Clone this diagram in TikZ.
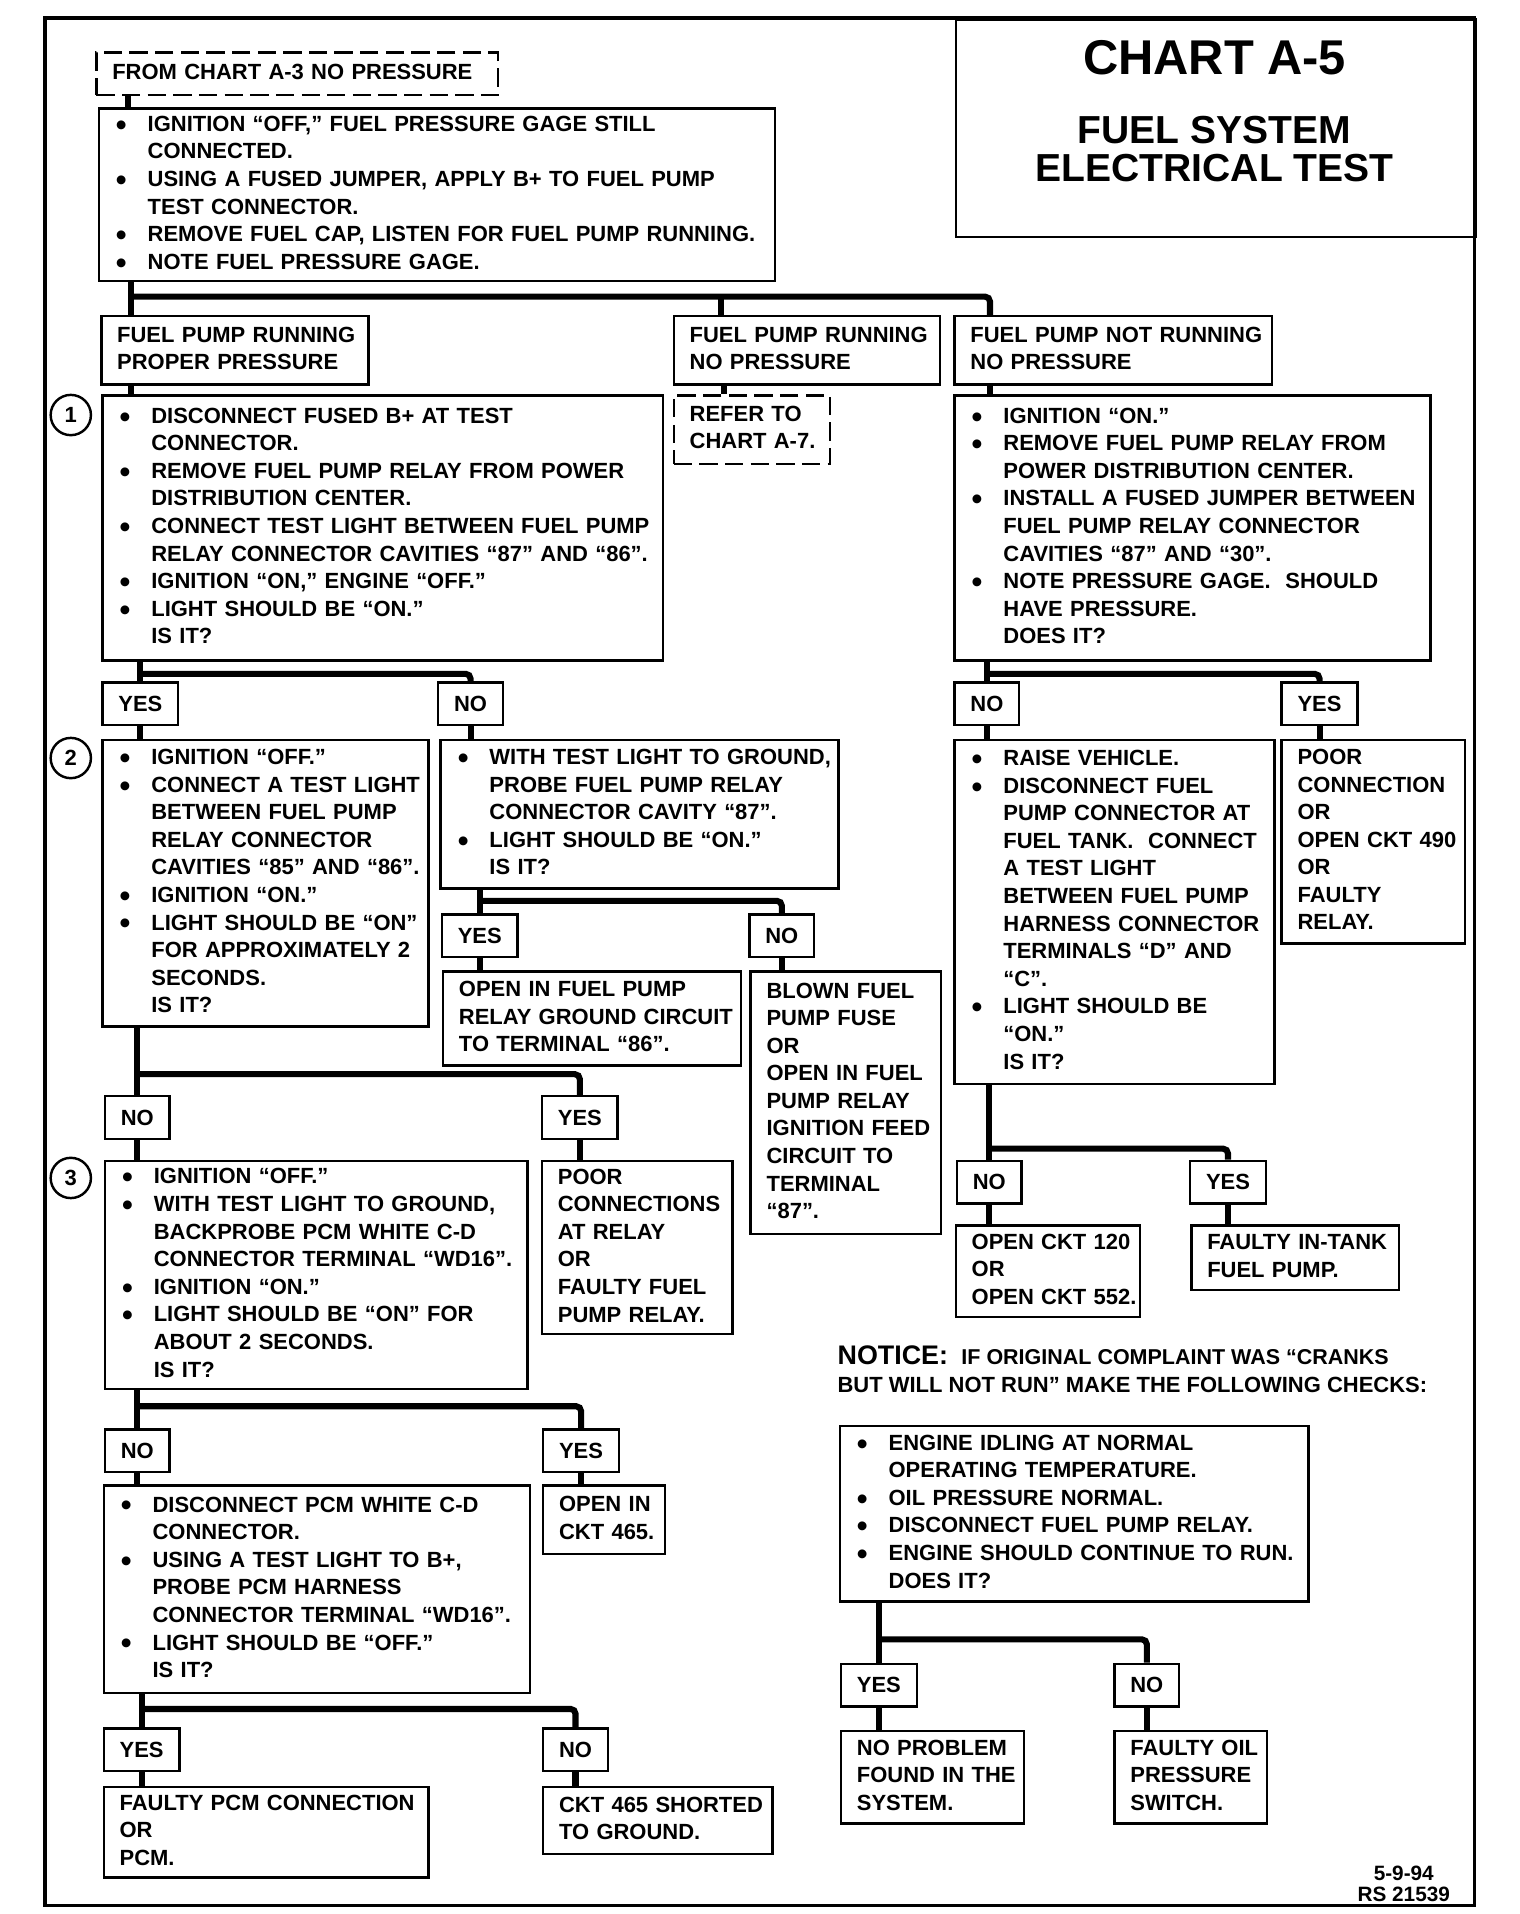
\documentclass[tikz,border=0pt]{standalone}
\usepackage{fontspec}
\usepackage{graphicx}
\setmainfont{Liberation Sans Bold}
\setlength{\parindent}{0pt}
\newcommand{\bul}{\makebox[27pt][l]{\hspace{1pt}\raisebox{-3.2pt}{\scalebox{1.4}{\textbullet}}}}
\newcommand{\ind}{\hspace{27pt}}
\newcommand{\lns}[1]{\begin{tabular}{@{}l@{}}#1\end{tabular}}

\begin{document}
\begin{tikzpicture}[x=1pt,y=-1pt]

\tikzset{
  box/.style={
    draw,
    line width=2pt,
    anchor=north west,
    align=left,
    inner xsep=13pt,
    inner ysep=0pt,
    font=\fontsize{18}{22.6}\selectfont
  },
  dbox/.style={
    box,
    dash pattern=on 15pt off 6pt
  },
  lbl/.style={
    draw,
    line width=2pt,
    anchor=north west,
    inner xsep=13pt,
    inner ysep=0pt,
    minimum height=35pt,
    font=\fontsize{18}{22.6}\selectfont
  },
  num/.style={
    draw,
    circle,
    line width=2pt,
    minimum size=33pt,
    inner sep=0pt,
    font=\fontsize{18}{20}\selectfont
  },
  conn/.style={
    line width=5pt,
    rounded corners=4pt
  }
}

\useasboundingbox (0,0) rectangle (1245,1568);

% FRAME
\draw[line width=3pt] (37,15) rectangle (1208,1561);

% TITLE
\node[draw, line width=2pt, anchor=north west, minimum width=426pt, minimum height=178pt] (tbox) at (782,15) {};
\node[font=\fontsize{40}{40}\selectfont] (tname) at (995,47) {CHART A-5};
\node[align=center, font=\fontsize{32}{31}\selectfont] (ttitle) at (995,122) {FUEL SYSTEM\\ELECTRICAL TEST};

% START
\node[dbox, text width=303pt, minimum height=35pt] (from) at (78,42) {\lns{FROM CHART A-3 NO PRESSURE}};

\node[box, text width=528pt, minimum height=141pt] (b0) at (80,88) {\lns{
\bul IGNITION “OFF,” FUEL PRESSURE GAGE STILL\\
\ind CONNECTED.\\
\bul USING A FUSED JUMPER, APPLY B+ TO FUEL PUMP\\
\ind TEST CONNECTOR.\\
\bul REMOVE FUEL CAP, LISTEN FOR FUEL PUMP RUNNING.\\
\bul NOTE FUEL PRESSURE GAGE.}};

% BRANCHES
\node[box, text width=193pt, minimum height=56pt] (br1) at (82,258) {\lns{FUEL PUMP RUNNING\\PROPER PRESSURE}};
\node[box, text width=192pt, minimum height=56pt] (br2) at (551,258) {\lns{FUEL PUMP RUNNING\\NO PRESSURE}};
\node[box, text width=234pt, minimum height=56pt] (br3) at (781,258) {\lns{FUEL PUMP NOT RUNNING\\NO PRESSURE}};

% STEP 1
\node[num] (c1) at (58,340) {1};
\node[box, text width=433pt, minimum height=217pt] (b1) at (83,323) {\lns{
\bul DISCONNECT FUSED B+ AT TEST\\
\ind CONNECTOR.\\
\bul REMOVE FUEL PUMP RELAY FROM POWER\\
\ind DISTRIBUTION CENTER.\\
\bul CONNECT TEST LIGHT BETWEEN FUEL PUMP\\
\ind RELAY CONNECTOR CAVITIES “87” AND “86”.\\
\bul IGNITION “ON,” ENGINE “OFF.”\\
\bul LIGHT SHOULD BE “ON.”\\
\ind IS IT?}};

\node[dbox, text width=102pt, minimum height=56pt] (refer) at (551,323) {\lns{REFER TO\\CHART A-7.}};

\node[box, text width=364pt, minimum height=217pt] (r1) at (781,323) {\lns{
\bul IGNITION “ON.”\\
\bul REMOVE FUEL PUMP RELAY FROM\\
\ind POWER DISTRIBUTION CENTER.\\
\bul INSTALL A FUSED JUMPER BETWEEN\\
\ind FUEL PUMP RELAY CONNECTOR\\
\ind CAVITIES “87” AND “30”.\\
\bul NOTE PRESSURE GAGE.\ \ SHOULD\\
\ind HAVE PRESSURE.\\
\ind DOES IT?}};

\node[lbl] (yes1) at (83,558) {YES};
\node[lbl] (no1) at (358,558) {NO};
\node[lbl] (nor1) at (781,558) {NO};
\node[lbl] (yesr1) at (1049,558) {YES};

% STEP 2
\node[num] (c2) at (58,621) {2};
\node[box, text width=241pt, minimum height=235pt] (b2) at (83,605) {\lns{
\bul IGNITION “OFF.”\\
\bul CONNECT A TEST LIGHT\\
\ind BETWEEN FUEL PUMP\\
\ind RELAY CONNECTOR\\
\ind CAVITIES “85” AND “86”.\\
\bul IGNITION “ON.”\\
\bul LIGHT SHOULD BE “ON”\\
\ind FOR APPROXIMATELY 2\\
\ind SECONDS.\\
\ind IS IT?}};

\node[box, text width=300pt, minimum height=122pt] (b2n) at (360,605) {\lns{
\bul WITH TEST LIGHT TO GROUND,\\
\ind PROBE FUEL PUMP RELAY\\
\ind CONNECTOR CAVITY “87”.\\
\bul LIGHT SHOULD BE “ON.”\\
\ind IS IT?}};

\node[lbl] (yesb2n) at (361,748) {YES};
\node[lbl] (nob2n) at (613,748) {NO};

\node[box, text width=218pt, minimum height=77pt] (opgnd) at (362,795) {\lns{OPEN IN FUEL PUMP\\RELAY GROUND CIRCUIT\\TO TERMINAL “86”.}};
\node[box, text width=130pt, minimum height=215pt] (blown) at (614,795) {\lns{BLOWN FUEL\\PUMP FUSE\\OR\\OPEN IN FUEL\\PUMP RELAY\\IGNITION FEED\\CIRCUIT TO\\TERMINAL\\“87”.}};

\node[box, text width=236pt, minimum height=282pt] (r2) at (781,605) {\lns{
\bul RAISE VEHICLE.\\
\bul DISCONNECT FUEL\\
\ind PUMP CONNECTOR AT\\
\ind FUEL TANK.\ \ CONNECT\\
\ind A TEST LIGHT\\
\ind BETWEEN FUEL PUMP\\
\ind HARNESS CONNECTOR\\
\ind TERMINALS “D” AND\\
\ind “C”.\\
\bul LIGHT SHOULD BE\\
\ind “ON.”\\
\ind IS IT?}};

\node[box, text width=124pt, minimum height=167pt] (r2y) at (1049,605) {\lns{POOR\\CONNECTION\\OR\\OPEN CKT 490\\OR\\FAULTY\\RELAY.}};

\node[lbl] (nor2) at (783,950) {NO};
\node[lbl] (yesr2) at (974,950) {YES};

\node[box, text width=125pt, minimum height=75pt] (ckt120) at (782,1003) {\lns{OPEN CKT 120\\OR\\OPEN CKT 552.}};
\node[box, text width=144pt, minimum height=53pt] (intank) at (975,1003) {\lns{FAULTY IN-TANK\\FUEL PUMP.}};

\node[lbl] (nob2) at (85,897) {NO};
\node[lbl] (yesb2) at (443,897) {YES};

% STEP 3
\node[num] (c3) at (58,965) {3};
\node[box, text width=320pt, minimum height=187pt] (b3) at (85,950) {\lns{
\bul IGNITION “OFF.”\\
\bul WITH TEST LIGHT TO GROUND,\\
\ind BACKPROBE PCM WHITE C-D\\
\ind CONNECTOR TERMINAL “WD16”.\\
\bul IGNITION “ON.”\\
\bul LIGHT SHOULD BE “ON” FOR\\
\ind ABOUT 2 SECONDS.\\
\ind IS IT?}};

\node[box, text width=130pt, minimum height=142pt] (poor) at (443,950) {\lns{POOR\\CONNECTIONS\\AT RELAY\\OR\\FAULTY FUEL\\PUMP RELAY.}};

\node[lbl] (nob3) at (85,1170) {NO};
\node[lbl] (yesb3) at (444,1170) {YES};

% STEP 4
\node[box, text width=323pt, minimum height=170pt] (b4) at (84,1216) {\lns{
\bul DISCONNECT PCM WHITE C-D\\
\ind CONNECTOR.\\
\bul USING A TEST LIGHT TO B+,\\
\ind PROBE PCM HARNESS\\
\ind CONNECTOR TERMINAL “WD16”.\\
\bul LIGHT SHOULD BE “OFF.”\\
\ind IS IT?}};

\node[box, text width=74pt, minimum height=56pt] (open465) at (444,1216) {\lns{OPEN IN\\CKT 465.}};

\node[lbl] (yesb4) at (84,1415) {YES};
\node[lbl] (nob4) at (444,1415) {NO};

\node[box, text width=240pt, minimum height=74pt] (pcm) at (84,1463) {\lns{FAULTY PCM CONNECTION\\OR\\PCM.}};
\node[box, text width=162pt, minimum height=55pt] (short) at (444,1463) {\lns{CKT 465 SHORTED\\TO GROUND.}};

% NOTICE
\node[anchor=north west, inner sep=0pt, align=left, font=\fontsize{18}{23}\selectfont] (notice) at (686,1102)
  {{\fontsize{22}{22}\selectfont NOTICE:}\hspace{11pt}{\fontsize{17.6}{22}\selectfont IF ORIGINAL COMPLAINT WAS “CRANKS}\\
   BUT WILL NOT RUN” MAKE THE FOLLOWING CHECKS:};

\node[box, text width=358pt, minimum height=144pt] (nb) at (687,1167) {\lns{
\bul ENGINE IDLING AT NORMAL\\
\ind OPERATING TEMPERATURE.\\
\bul OIL PRESSURE NORMAL.\\
\bul DISCONNECT FUEL PUMP RELAY.\\
\bul ENGINE SHOULD CONTINUE TO RUN.\\
\ind DOES IT?}};

\node[lbl] (yesn) at (688,1362) {YES};
\node[lbl] (non) at (912,1362) {NO};

\node[box, text width=124pt, minimum height=76pt] (noprob) at (688,1417) {\lns{NO PROBLEM\\FOUND IN THE\\SYSTEM.}};
\node[box, text width=99pt, minimum height=76pt] (oilsw) at (912,1417) {\lns{FAULTY OIL\\PRESSURE\\SWITCH.}};

% DATE
\node[align=center, font=\fontsize{17}{17}\selectfont] (code) at (1150,1543) {5-9-94\\RS 21539};

% TOP CONNECTORS
\coordinate (k0) at ([xshift=27pt]from.south west);
\coordinate (k1) at ([xshift=27pt]b0.south west);
\coordinate (k2) at ([xshift=40pt]br2.north west);
\coordinate (k3) at ([xshift=30pt]br3.north west);
\coordinate (s0) at (107,243);
\draw[conn] (k0) -- (k0 |- b0.north);
\draw[conn] (k1) -- (k1 |- br1.north);
\draw[conn] (s0) -| (k3);
\draw[conn] (k2 |- s0) -- (k2);
\draw[conn] (k1 |- br1.south) -- (k1 |- b1.north);
\draw[conn] ([xshift=2pt]k2 |- br2.south) -- ([xshift=2pt]k2 |- refer.north);
\draw[conn] (k3 |- br3.south) -- (k3 |- r1.north);

% STEP 1 SPLIT
\coordinate (s1) at (0,552);
\draw[conn] (b1.south -| yes1) -- (yes1.north);
\draw[conn] (yes1 |- s1) -| (no1.north);
\draw[conn] (yes1.south) -- (yes1 |- b2.north);
\draw[conn] (no1.south) -- (no1 |- b2n.north);

\draw[conn] (r1.south -| nor1) -- (nor1.north);
\draw[conn] (nor1 |- s1) -| (yesr1.north);
\draw[conn] (nor1.south) -- (nor1 |- r2.north);
\draw[conn] (yesr1.south) -- (yesr1 |- r2y.north);

% STEP 2 SPLITS
\coordinate (s2n) at (0,738);
\draw[conn] (b2n.south -| yesb2n) -- (yesb2n.north);
\draw[conn] (yesb2n |- s2n) -| (nob2n.north);
\draw[conn] (yesb2n.south) -- (yesb2n |- opgnd.north);
\draw[conn] (nob2n.south) -- (nob2n |- blown.north);

\coordinate (sr2) at (0,941);
\draw[conn] (r2.south -| nor2) -- (nor2.north);
\draw[conn] (nor2 |- sr2) -| (yesr2.north);
\draw[conn] (nor2.south) -- (nor2 |- ckt120.north);
\draw[conn] (yesr2.south) -- (yesr2 |- intank.north);

\coordinate (s2) at (0,880);
\draw[conn] (b2.south -| nob2) -- (nob2.north);
\draw[conn] (nob2 |- s2) -| (yesb2.north);
\draw[conn] (nob2.south) -- (nob2 |- b3.north);
\draw[conn] (yesb2.south) -- (yesb2 |- poor.north);

% STEP 3 SPLIT
\coordinate (s3) at (0,1152);
\draw[conn] (b3.south -| nob3) -- (nob3.north);
\draw[conn] (nob3 |- s3) -| (yesb3.north);
\draw[conn] (nob3.south) -- (nob3 |- b4.north);
\draw[conn] (yesb3.south) -- (yesb3 |- open465.north);

% STEP 4 SPLIT
\coordinate (s4) at (0,1400);
\draw[conn] (b4.south -| yesb4) -- (yesb4.north);
\draw[conn] (yesb4 |- s4) -| (nob4.north);
\draw[conn] (yesb4.south) -- (yesb4 |- pcm.north);
\draw[conn] (nob4.south) -- (nob4 |- short.north);

% NOTICE SPLIT
\coordinate (sn) at (0,1343);
\draw[conn] (nb.south -| yesn) -- (yesn.north);
\draw[conn] (yesn |- sn) -| (non.north);
\draw[conn] (yesn.south) -- (yesn |- noprob.north);
\draw[conn] (non.south) -- (non |- oilsw.north);

\end{tikzpicture}
\end{document}
